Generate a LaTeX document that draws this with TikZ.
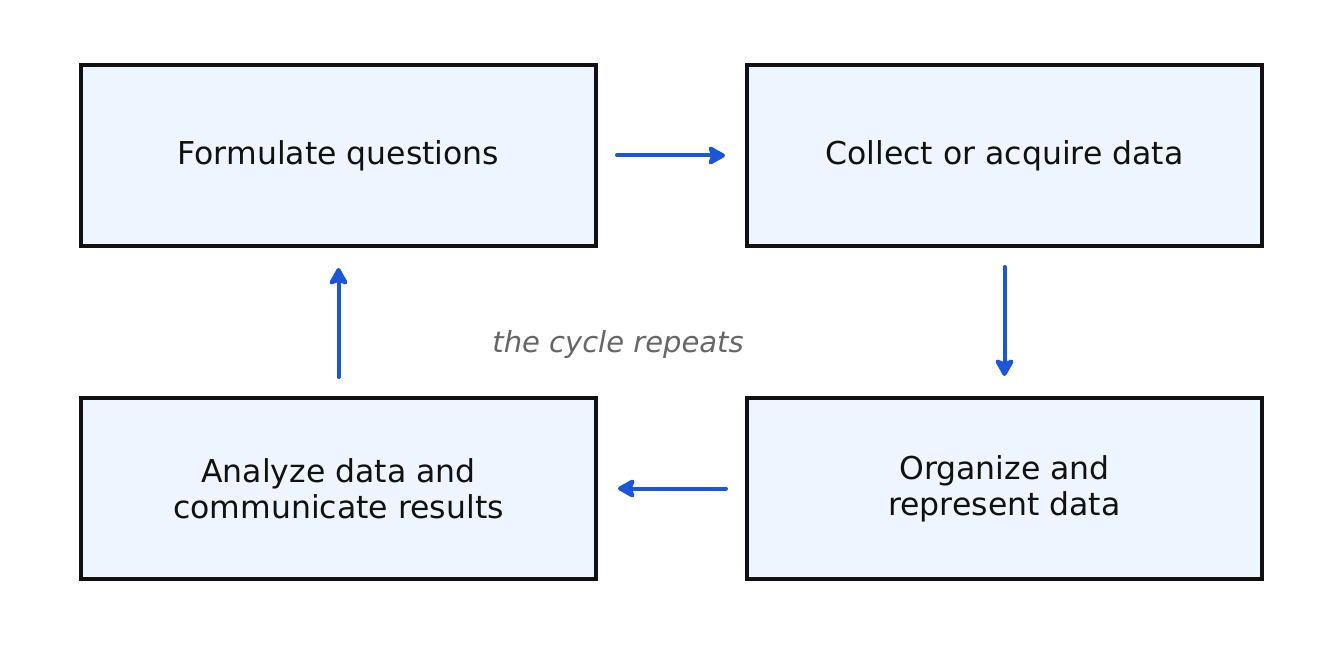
\documentclass[tikz,border=0pt]{standalone}
\usepackage{fontspec}
\setmainfont{DejaVu Sans}
\usetikzlibrary{arrows.meta}
\definecolor{boxfill}{HTML}{EEF5FF}
\definecolor{boxline}{HTML}{111111}
\definecolor{arr}{HTML}{1A56DB}
\definecolor{note}{HTML}{666666}
\begin{document}
\begin{tikzpicture}[x=1pt,y=-1pt,
  stepbox/.style={draw=boxline,line width=4pt,fill=boxfill,minimum width=515pt,minimum height=181pt,align=center,font=\fontsize{31.5}{36}\selectfont,text=boxline},
  flow/.style={draw=arr,line width=4pt,line cap=round,-{Stealth[length=20pt,width=22pt,inset=4pt,round]}}]
\useasboundingbox (0,0) rectangle (1342,660);
\node[stepbox] (a) at (338.5,155.5) {Formulate questions};
\node[stepbox] (b) at (1004.5,155.5) {Collect or acquire data};
\node[stepbox] (c) at (1004.5,488.5) {Organize and\\represent data};
\node[stepbox] (d) at (338.5,488.5) {Analyze data and\\communicate results};
\node[font=\itshape\fontsize{29}{34}\selectfont,text=note] (n) at (618,345) {the cycle repeats};
\draw[flow,shorten <=19pt,shorten >=20pt] (a.east) -- (b.west);
\draw[flow,shorten <=19pt,shorten >=20pt] (b.south) -- (c.north);
\draw[flow,shorten <=19pt,shorten >=20pt] (c.west) -- (d.east);
\draw[flow,shorten <=19pt,shorten >=20pt] (d.north) -- (a.south);
\end{tikzpicture}
\end{document}
